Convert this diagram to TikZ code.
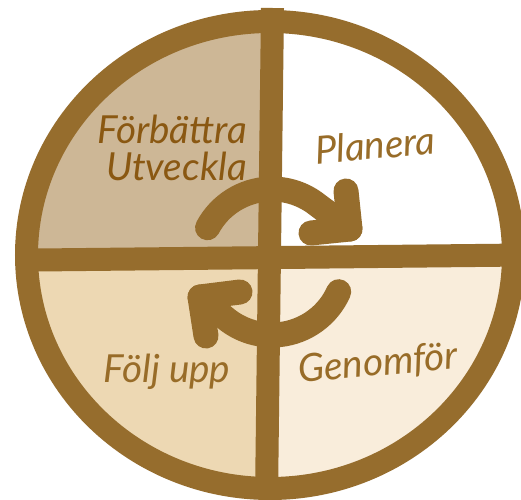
\documentclass[tikz,border=0pt]{standalone}
\usepackage{fontspec}
\setmainfont{Lato}
\usepackage{tikz}
\usetikzlibrary{calc}
\definecolor{ringbrown}{RGB}{150,109,45}
\definecolor{darkbrown}{RGB}{138,88,18}
\definecolor{labelbrown}{RGB}{152,108,40}
\definecolor{improvefill}{RGB}{205,183,150}
\definecolor{followfill}{RGB}{237,216,179}
\definecolor{dofill}{RGB}{249,237,219}
\tikzset{
  ring/.style={draw=ringbrown, line width=23*0.02cm},
  divider/.style={draw=ringbrown, line width=23*0.02cm},
  cyclearrow/.style={draw=ringbrown, line width=25*0.02cm, line cap=round,
    line join=round},
  phase/.style={font=\itshape\fontsize{22}{21}\selectfont, text=labelbrown,
    inner sep=0pt},
}

\begin{document}
\begin{tikzpicture}[x=0.02cm, y=-0.02cm]
  \useasboundingbox (0,0) rectangle (521,500);
  \fill[white] (0,0) rectangle (521,500);

  % quadrants
  \begin{scope}
    \clip (270,255) ellipse [x radius=243.5, y radius=233.5];
    \fill[improvefill] (0,0) -- (273,0) -- (269.5,257.5) -- (0,260.2) -- cycle;
    \fill[white] (273,0) -- (521,0) -- (521,255) -- (269.5,257.5) -- cycle;
    \fill[followfill] (0,260.2) -- (269.5,257.5) -- (266.5,500) -- (0,500) -- cycle;
    \fill[dofill] (269.5,257.5) -- (521,255) -- (521,500) -- (266.5,500) -- cycle;
  \end{scope}

  \coordinate (top) at (272.5,8);
  \coordinate (bottom) at (266.5,498);
  \coordinate (left) at (18,260.2);
  \coordinate (right) at (524,255);
  \draw[divider] (top) -- (bottom);
  \draw[divider] (left) -- (right);
  \draw[ring] (270,255) ellipse [x radius=243.5, y radius=233.5];

  % cycle arrows
  \coordinate (hub) at (272,262);
  \coordinate (tipa) at (350,229);
  \coordinate (tipb) at (200,297);
  \draw[cyclearrow] ($(hub)+(-152:73)$) arc[start angle=-152, end angle=-51,
    radius=73] -- (tipa);
  \draw[cyclearrow] (346,191) -- (tipa) -- (311,233);
  \draw[cyclearrow] ($(hub)+(24:73)$) arc[start angle=24, end angle=129,
    radius=73] -- (tipb);
  \draw[cyclearrow] (240,292) -- (tipb) -- (206,336);

  % labels
  \node[phase, text=darkbrown, align=right] (improve) at (172,148)
    {Förbättra\\Utveckla};
  \node[phase, rotate=5] (plan) at (375,145) {Planera};
  \node[phase, rotate=5] (doit) at (378,364) {Genomför};
  \node[phase] (follow) at (167,372) {Följ upp};
\end{tikzpicture}
\end{document}
